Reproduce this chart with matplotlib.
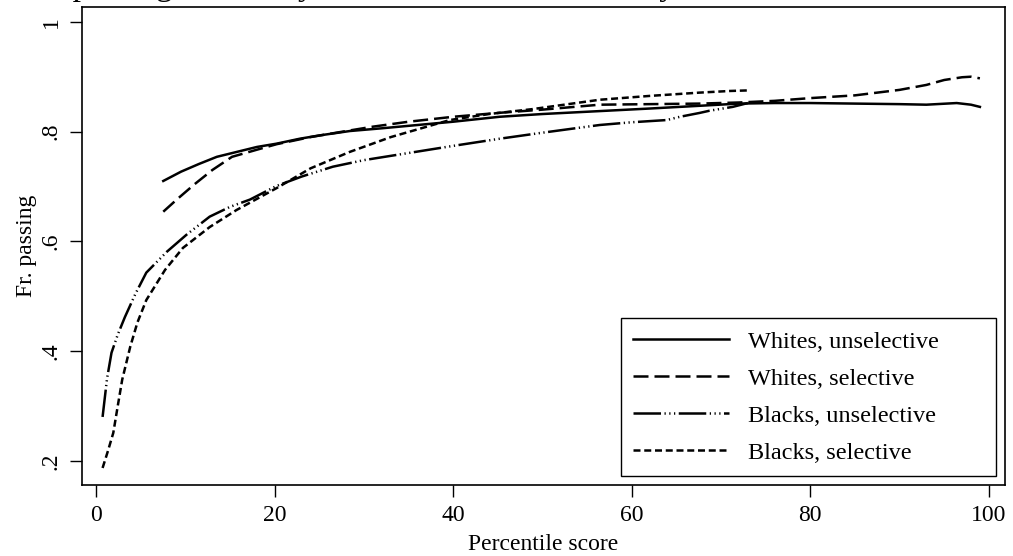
import numpy as np
import matplotlib
matplotlib.use("Agg")
import matplotlib.pyplot as plt

plt.rcParams["font.family"] = ["Liberation Serif", "DejaVu Serif"]

# percentile score (x) and fraction passing (y)
wu_x = [7.5, 9.5, 11.5, 13.5, 16, 18, 20.2, 22.8, 25, 28.4, 32, 36, 40, 45.2, 50, 56, 62, 67.6, 72, 76, 80, 85, 90, 93, 96.4, 98, 99]
wu_y = [0.710, 0.727, 0.741, 0.754, 0.764, 0.772, 0.778, 0.787, 0.793, 0.801, 0.806, 0.812, 0.818, 0.827, 0.832, 0.837, 0.842, 0.847, 0.851, 0.852, 0.852, 0.851, 0.850, 0.849, 0.852, 0.849, 0.845]

ws_x = [7.5, 9, 11, 13, 15.2, 18, 20.2, 24, 28, 31, 35, 40, 45, 50, 56.4, 62, 67.6, 72, 76, 80, 85, 90, 93, 95, 97, 98, 99]
ws_y = [0.654, 0.676, 0.704, 0.730, 0.754, 0.767, 0.777, 0.790, 0.801, 0.809, 0.818, 0.827, 0.834, 0.840, 0.849, 0.850, 0.851, 0.853, 0.856, 0.861, 0.866, 0.876, 0.885, 0.894, 0.899, 0.900, 0.897]

bu_x = [0.7, 1.2, 1.7, 2.4, 3.2, 4.4, 5.6, 7.9, 10.1, 12.7, 15, 17.2, 20.2, 23, 26.5, 30, 35, 40, 45.2, 50, 56.4, 60, 63.9, 65.4, 67.6, 68.7, 71.3, 73]
bu_y = [0.280, 0.350, 0.397, 0.430, 0.462, 0.505, 0.543, 0.581, 0.612, 0.645, 0.663, 0.676, 0.701, 0.718, 0.736, 0.748, 0.761, 0.774, 0.787, 0.798, 0.812, 0.817, 0.821, 0.827, 0.834, 0.838, 0.845, 0.852]

bs_x = [0.7, 1.3, 1.9, 2.4, 2.9, 3.8, 4.6, 5.6, 7.7, 9.7, 12.7, 15.7, 20.2, 24, 28.4, 33, 39.6, 44, 48.9, 56.4, 62, 67.6, 71, 73]
bs_y = [0.187, 0.218, 0.251, 0.300, 0.348, 0.408, 0.452, 0.493, 0.548, 0.588, 0.626, 0.657, 0.697, 0.733, 0.763, 0.790, 0.821, 0.832, 0.841, 0.858, 0.865, 0.871, 0.874, 0.875]

labels = ["Whites, unselective", "Whites, selective", "Blacks, unselective", "Blacks, selective"]
xticks = [0, 20, 40, 60, 80, 100]
yticks = [0.2, 0.4, 0.6, 0.8, 1.0]
ytick_labels = [".2", ".4", ".6", ".8", "1"]

fig = plt.figure(figsize=(10.13, 5.56), dpi=100)
ax = fig.add_axes([0.081, 0.1277, 0.911, 0.8597])

lw = 1.8
ax.plot(wu_x, wu_y, color="black", lw=lw, linestyle="-", label=labels[0])
ax.plot(ws_x, ws_y, color="black", lw=lw, linestyle=(0, (6.0, 2.4)), label=labels[1])
ax.plot(bu_x, bu_y, color="black", lw=lw,
        linestyle=(0, (11, 1.4, 0.5, 1.4, 0.5, 1.4, 0.5, 1.4)), label=labels[2])
ax.plot(bs_x, bs_y, color="black", lw=lw, linestyle=(0, (2.8, 1.5)), label=labels[3])

ax.set_xlim(-1.6, 101.8)
ax.set_ylim(0.156, 1.027)
ax.set_xticks(xticks)
ax.set_yticks(yticks)
ax.set_yticklabels(ytick_labels, rotation=90, va="center")
ax.tick_params(direction="out", length=8.5, width=1, labelsize=17, pad=6)
for s in ax.spines.values():
    s.set_linewidth(1.2)

ax.set_xlabel("Percentile score", fontsize=17, labelpad=5.5)
ax.set_ylabel("Fr. passing", fontsize=17, labelpad=3)

# legend box spans a fixed width, entries left-aligned inside it
leg = ax.legend(loc="lower left", bbox_to_anchor=(0.584, 0.019, 0.406, 0.337),
                mode="expand", borderaxespad=0,
                fontsize=17.5, handlelength=3.95, handletextpad=0.78, labelspacing=0.62,
                fancybox=False, edgecolor="black", framealpha=1,
                borderpad=0.5)
leg.get_frame().set_linewidth(1)

# title sits mostly above the visible area, only descenders show
fig.text(0.028, 1.0085, "Fr. passing the bar by race and school selectivity",
         fontsize=24, ha="left", va="baseline")

fig.savefig("out.png", dpi=100)
